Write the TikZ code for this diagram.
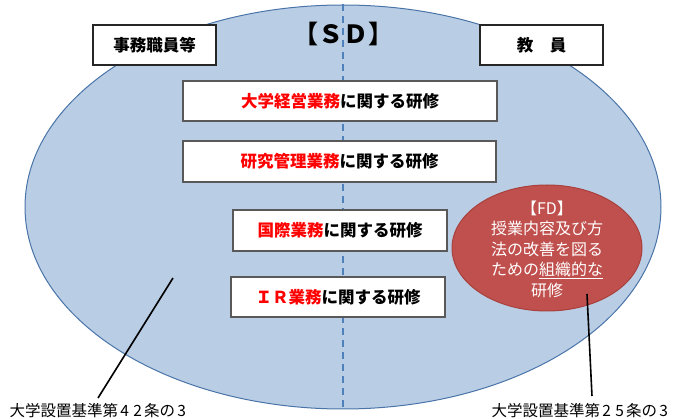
\documentclass[tikz,border=0pt]{standalone}
\usepackage{fontspec}
\setmainfont{Noto Sans CJK JP}
\newfontfamily\cjk{Noto Sans CJK JP}
\usetikzlibrary{shapes.geometric}
\definecolor{sdfill}{HTML}{B9CDE5}
\definecolor{sdline}{HTML}{4A74A8}
\definecolor{dashblue}{HTML}{4F81BD}
\definecolor{fdfill}{HTML}{C0504D}
\definecolor{fdline}{HTML}{A8403D}
\definecolor{boxline}{HTML}{595959}
\definecolor{redtxt}{HTML}{FF0000}
\tikzset{
  topicbox/.style={draw=boxline, line width=1.6pt, fill=white, inner sep=0pt,
    font=\cjk\bfseries\fontsize{16.5}{18}\selectfont},
  rolebox/.style={draw=black!85, line width=1.6pt, fill=white, inner sep=0pt,
    minimum width=123pt, minimum height=40pt,
    font=\cjk\bfseries\fontsize{16.5}{18}\selectfont},
  lawlabel/.style={inner sep=1pt, font=\cjk\fontsize{15.5}{17}\selectfont},
  leader/.style={line width=1.6pt, black},
}
\newcommand{\dg}[1]{\kern2.2pt#1\kern2.2pt}
\begin{document}
\begin{tikzpicture}[x=1pt,y=-1pt]
\useasboundingbox (0,0) rectangle (681,419);
\node[ellipse, draw=sdline, line width=1pt, fill=sdfill, minimum width=636pt, minimum height=404pt, inner sep=0pt] (sd) at (343,207) {};
\draw[dashblue, line width=1.4pt, dash pattern=on 7pt off 5pt] (sd.north) -- (sd.south);
\node[font=\cjk\bfseries\fontsize{25}{27}\selectfont, inner sep=0pt] (title) at (343,34) {【ＳＤ】};
\node[rolebox] (staff) at (154.5,45) {事務職員等};
\node[rolebox] (fac) at (541.5,45) {教　員};
\node[topicbox, minimum width=314pt, minimum height=40pt] (b1) at (340,101) {\textcolor{redtxt}{大学経営業務}に関する研修};
\node[topicbox, minimum width=313pt, minimum height=41pt] (b2) at (339.5,161.5) {\textcolor{redtxt}{研究管理業務}に関する研修};
\node[topicbox, minimum width=214pt, minimum height=41pt] (b3) at (340,230.5) {\textcolor{redtxt}{国際業務}に関する研修};
\node[topicbox, minimum width=214pt, minimum height=40pt] (b4) at (338,297) {\textcolor{redtxt}{ＩＲ業務}に関する研修};
\node[ellipse, draw=fdline, line width=1pt, fill=fdfill, minimum width=190pt, minimum height=126pt, inner sep=0pt] (fd) at (547,248) {};
\node[align=center, text=white, inner sep=0pt, font=\cjk\fontsize{16}{20.5}\selectfont] (fdtext) at (547,249) {【FD】\\授業内容及び方\\法の改善を図る\\ための\underline{組織的な}\\研修};
\coordinate (p42) at (173,278);
\coordinate (q42) at (98,398);
\coordinate (p25) at (587,294);
\coordinate (q25) at (592,396);
\node[lawlabel] (l42) at (99,411) {大学設置基準第\dg{4}\dg{2}条の\dg{3}};
\node[lawlabel] (l25) at (581,411) {大学設置基準第\dg{2}\dg{5}条の\dg{3}};
\draw[leader] (p42) -- (q42);
\draw[leader] (p25) -- (q25);
\end{tikzpicture}
\end{document}
